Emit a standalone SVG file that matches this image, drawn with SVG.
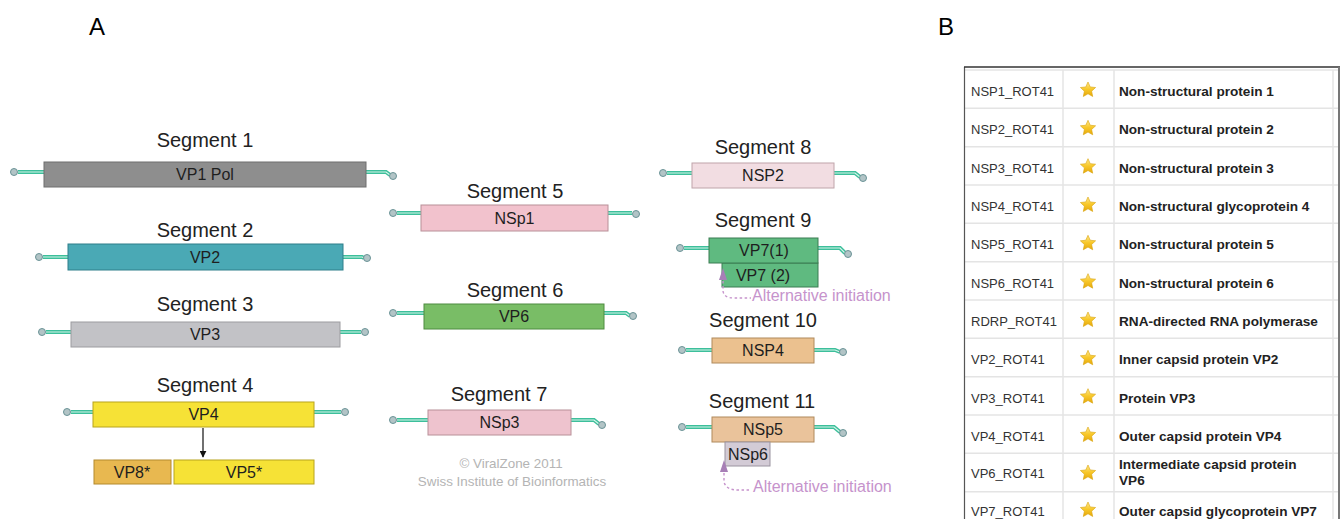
<svg xmlns="http://www.w3.org/2000/svg" width="1341" height="519" viewBox="0 0 1341 519">
<style>
.seg{font-family:"Liberation Sans",Arial,sans-serif;font-size:20px;fill:#222;text-anchor:middle}
.lbl{font-family:"Liberation Sans",Arial,sans-serif;font-size:16px;fill:#1e1e1e;text-anchor:middle}
.big{font-family:"Liberation Sans",Arial,sans-serif;font-size:24px;fill:#000;text-anchor:middle}
.copy{font-family:"Liberation Sans",Arial,sans-serif;font-size:13.4px;fill:#b4b4b4;text-anchor:middle}
.alt{font-family:"Liberation Sans",Arial,sans-serif;font-size:16px;fill:#c693cc}
.tl{fill:none;stroke:#3dbf9b;stroke-width:4}
.tc{fill:none;stroke:#d6f5ea;stroke-width:1.2}
.cap{fill:#b2c4c6;stroke:#6a9396;stroke-width:1}
.dash{fill:none;stroke:#c693cc;stroke-width:1.4;stroke-dasharray:2.5 2.5}
.id{font-family:"Liberation Sans",Arial,sans-serif;font-size:13px;fill:#333}
.nm{font-family:"Liberation Sans",Arial,sans-serif;font-size:13.6px;font-weight:bold;fill:#222}
.rl{stroke:#e4e4e4;stroke-width:1.5}
</style>
<defs>
<linearGradient id="sg" x1="0" y1="0" x2="0" y2="1">
<stop offset="0" stop-color="#ffe890"/>
<stop offset="0.5" stop-color="#f8c82a"/>
<stop offset="1" stop-color="#e6a80c"/>
</linearGradient>
<path id="star" d="M0,-8 L2.234,-3.074 L7.608,-2.472 L3.614,1.174 L4.702,6.472 L0,3.8 L-4.702,6.472 L-3.614,1.174 L-7.608,-2.472 L-2.234,-3.074 Z" fill="url(#sg)" stroke="#d9a20a" stroke-width="0.6"/>
<marker id="ah" viewBox="0 0 10 10" refX="9" refY="5" markerWidth="7" markerHeight="7" orient="auto" markerUnits="userSpaceOnUse">
<path d="M0,0 L10,5 L0,10 Z" fill="#111"/>
</marker>
</defs>
<rect width="1341" height="519" fill="#fff"/>
<text class="big" x="97" y="35">A</text>
<text class="big" x="946" y="35">B</text>

<!-- tails / connectors -->
<g id="connectors">
<path class="tl" d="M18,172 H44 M366,172 H386 L390,175"/>
<path class="tc" d="M18,172 H44 M366,172 H386 L390,175"/>
<path class="tl" d="M43,257 H68 M343,257 H362 L364,258"/>
<path class="tc" d="M43,257 H68 M343,257 H362 L364,258"/>
<path class="tl" d="M46,332 H71 M340,332 H361"/>
<path class="tc" d="M46,332 H71 M340,332 H361"/>
<path class="tl" d="M71,412 H93 M314,412 H341"/>
<path class="tc" d="M71,412 H93 M314,412 H341"/>
<path class="tl" d="M397,213 H421 M608,213 H632"/>
<path class="tc" d="M397,213 H421 M608,213 H632"/>
<path class="tl" d="M397,313 H424 M604,313 H626 L630,316"/>
<path class="tc" d="M397,313 H424 M604,313 H626 L630,316"/>
<path class="tl" d="M397,420 H428 M571,420 H594 L599,424"/>
<path class="tc" d="M397,420 H428 M571,420 H594 L599,424"/>
<path class="tl" d="M667,173 H692 M834,173 H855 L860,177"/>
<path class="tc" d="M667,173 H692 M834,173 H855 L860,177"/>
<path class="tl" d="M684,248 H709 M818,248 H840 L845,253"/>
<path class="tc" d="M684,248 H709 M818,248 H840 L845,253"/>
<path class="tl" d="M686,350 H712 M814,350 H835 L840,352"/>
<path class="tc" d="M686,350 H712 M814,350 H835 L840,352"/>
<path class="tl" d="M686,427 H712 M814,427 H834 L840,432"/>
<path class="tc" d="M686,427 H712 M814,427 H834 L840,432"/>
<g>
<circle class="cap" cx="14" cy="172" r="3.5"/><circle class="cap" cx="393" cy="176" r="3.5"/>
<circle class="cap" cx="39" cy="257" r="3.5"/><circle class="cap" cx="367" cy="258" r="3.5"/>
<circle class="cap" cx="42" cy="332" r="3.5"/><circle class="cap" cx="365" cy="332" r="3.5"/>
<circle class="cap" cx="67" cy="412" r="3.5"/><circle class="cap" cx="345" cy="412" r="3.5"/>
<circle class="cap" cx="393" cy="213" r="3.5"/><circle class="cap" cx="636" cy="214" r="3.5"/>
<circle class="cap" cx="393" cy="313" r="3.5"/><circle class="cap" cx="633" cy="316" r="3.5"/>
<circle class="cap" cx="393" cy="420" r="3.5"/><circle class="cap" cx="602" cy="425" r="3.5"/>
<circle class="cap" cx="663" cy="173" r="3.5"/><circle class="cap" cx="863" cy="178" r="3.5"/>
<circle class="cap" cx="680" cy="248" r="3.5"/><circle class="cap" cx="848" cy="254" r="3.5"/>
<circle class="cap" cx="682" cy="350" r="3.5"/><circle class="cap" cx="843" cy="352" r="3.5"/>
<circle class="cap" cx="682" cy="427" r="3.5"/><circle class="cap" cx="843" cy="433" r="3.5"/>
</g>
<line x1="203" y1="428" x2="203" y2="457" stroke="#111" stroke-width="1.2" marker-end="url(#ah)"/>
</g>

<g id="seg1">
<text class="seg" x="205" y="147">Segment 1</text>
<rect x="44" y="162" width="322" height="25" fill="#8e8e8e" stroke="#6e6e6e"/>
<text class="lbl" x="205" y="180">VP1 Pol</text>
</g>
<g id="seg2">
<text class="seg" x="205" y="237">Segment 2</text>
<rect x="68" y="244" width="275" height="26" fill="#4aa9b5" stroke="#2f7f8a"/>
<text class="lbl" x="205" y="262.5">VP2</text>
</g>
<g id="seg3">
<text class="seg" x="205" y="311">Segment 3</text>
<rect x="71" y="322" width="269" height="25" fill="#c2c2c6" stroke="#9c9ca0"/>
<text class="lbl" x="205" y="340">VP3</text>
</g>
<g id="seg4">
<text class="seg" x="205" y="392">Segment 4</text>
<rect x="93" y="402" width="221" height="25" fill="#f6e236" stroke="#b8a41c"/>
<text class="lbl" x="203.5" y="420">VP4</text>
</g>
<g id="vp8">
<rect x="94" y="460" width="77" height="24" fill="#e8b850" stroke="#b48a2c"/>
<text class="lbl" x="132" y="477.5">VP8*</text>
</g>
<g id="vp5">
<rect x="174" y="460" width="140" height="24" fill="#f6e236" stroke="#b8a41c"/>
<text class="lbl" x="244" y="477.5">VP5*</text>
</g>
<g id="seg5">
<text class="seg" x="515" y="198">Segment 5</text>
<rect x="421" y="205" width="187" height="26" fill="#f2c2cd" stroke="#b89098"/>
<text class="lbl" x="514.5" y="223.5">NSp1</text>
</g>
<g id="seg6">
<text class="seg" x="515" y="297">Segment 6</text>
<rect x="424" y="304" width="180" height="25" fill="#79bd66" stroke="#4f8c40"/>
<text class="lbl" x="514" y="322">VP6</text>
</g>
<g id="seg7">
<text class="seg" x="499" y="401">Segment 7</text>
<rect x="428" y="410" width="143" height="25" fill="#eec3ce" stroke="#b89098"/>
<text class="lbl" x="499.5" y="428">NSp3</text>
</g>
<g id="copyright">
<text class="copy" x="511" y="468">© ViralZone 2011</text>
<text class="copy" x="512" y="486">Swiss Institute of Bioinformatics</text>
</g>
<g id="seg8">
<text class="seg" x="763" y="154">Segment 8</text>
<rect x="692" y="163" width="142" height="25" fill="#f2dde2" stroke="#bfa4aa"/>
<text class="lbl" x="763" y="181">NSP2</text>
</g>
<g id="seg9">
<text class="seg" x="763" y="227">Segment 9</text>
<rect x="722" y="263" width="96" height="24" fill="#5fba80" stroke="#3b7d52"/>
<text class="lbl" x="763" y="280.5">VP7 (2)</text>
<rect x="709" y="238" width="109" height="25" fill="#5fba80" stroke="#3b7d52"/>
<text class="lbl" x="764" y="256">VP7(1)</text>
<path d="M723,268 L727,280 L719,280 Z" fill="#a77fb6"/>
<path class="dash" d="M723,281 V291 Q724,298 734,298 H751"/>
<text class="alt" x="752" y="301">Alternative initiation</text>
</g>
<g id="seg10">
<text class="seg" x="763" y="327">Segment 10</text>
<rect x="712" y="338" width="102" height="25" fill="#ebc18f" stroke="#b08a5c"/>
<text class="lbl" x="763" y="356">NSP4</text>
</g>
<g id="seg11">
<text class="seg" x="762" y="408">Segment 11</text>
<rect x="712" y="417" width="102" height="25" fill="#eac39b" stroke="#b08a5c"/>
<text class="lbl" x="763" y="435">NSp5</text>
<rect x="725" y="442" width="45" height="24" fill="#d3cbd6" stroke="#9a93a0"/>
<text class="lbl" x="748" y="459.5">NSp6</text>
<path d="M724,460 L728,472 L720,472 Z" fill="#a77fb6"/>
<path class="dash" d="M724,473 V482 Q726,490 738,490 H751"/>
<text class="alt" x="753" y="492">Alternative initiation</text>
</g>

<g id="table">
<rect x="964" y="67" width="376" height="460" fill="#fff"/>
<line class="rl" x1="965" y1="70" x2="1338" y2="70"/>
<g>
<line class="rl" x1="965" y1="108.3" x2="1338" y2="108.3"/>
<line class="rl" x1="965" y1="146.7" x2="1338" y2="146.7"/>
<line class="rl" x1="965" y1="185" x2="1338" y2="185"/>
<line class="rl" x1="965" y1="223.3" x2="1338" y2="223.3"/>
<line class="rl" x1="965" y1="261.7" x2="1338" y2="261.7"/>
<line class="rl" x1="965" y1="300" x2="1338" y2="300"/>
<line class="rl" x1="965" y1="338.3" x2="1338" y2="338.3"/>
<line class="rl" x1="965" y1="376.7" x2="1338" y2="376.7"/>
<line class="rl" x1="965" y1="415" x2="1338" y2="415"/>
<line class="rl" x1="965" y1="453.3" x2="1338" y2="453.3"/>
<line class="rl" x1="965" y1="491.7" x2="1338" y2="491.7"/>
</g>
<line class="rl" x1="1063" y1="70" x2="1063" y2="519"/>
<line class="rl" x1="1114" y1="70" x2="1114" y2="519"/>
<line class="rl" x1="1333" y1="70" x2="1333" y2="519"/>
<line x1="964.5" y1="67" x2="964.5" y2="519" stroke="#555" stroke-width="1.2"/>
<line x1="964" y1="67" x2="1340" y2="67" stroke="#333" stroke-width="1.4"/>
<line x1="1339" y1="67" x2="1339" y2="519" stroke="#777" stroke-width="2"/>
<g id="rows">
<text class="id" x="971" y="96">NSP1_ROT41</text><use href="#star" x="1088" y="90"/><text class="nm" x="1119" y="96">Non-structural protein 1</text>
<text class="id" x="971" y="134.3">NSP2_ROT41</text><use href="#star" x="1088" y="128.3"/><text class="nm" x="1119" y="134.3">Non-structural protein 2</text>
<text class="id" x="971" y="172.7">NSP3_ROT41</text><use href="#star" x="1088" y="166.7"/><text class="nm" x="1119" y="172.7">Non-structural protein 3</text>
<text class="id" x="971" y="211">NSP4_ROT41</text><use href="#star" x="1088" y="205"/><text class="nm" x="1119" y="211">Non-structural glycoprotein 4</text>
<text class="id" x="971" y="249.3">NSP5_ROT41</text><use href="#star" x="1088" y="243.3"/><text class="nm" x="1119" y="249.3">Non-structural protein 5</text>
<text class="id" x="971" y="287.7">NSP6_ROT41</text><use href="#star" x="1088" y="281.7"/><text class="nm" x="1119" y="287.7">Non-structural protein 6</text>
<text class="id" x="971" y="326">RDRP_ROT41</text><use href="#star" x="1088" y="320"/><text class="nm" x="1119" y="326">RNA-directed RNA polymerase</text>
<text class="id" x="971" y="364.3">VP2_ROT41</text><use href="#star" x="1088" y="358.3"/><text class="nm" x="1119" y="364.3">Inner capsid protein VP2</text>
<text class="id" x="971" y="402.7">VP3_ROT41</text><use href="#star" x="1088" y="396.7"/><text class="nm" x="1119" y="402.7">Protein VP3</text>
<text class="id" x="971" y="441">VP4_ROT41</text><use href="#star" x="1088" y="435"/><text class="nm" x="1119" y="441">Outer capsid protein VP4</text>
<text class="id" x="971" y="478">VP6_ROT41</text><use href="#star" x="1088" y="473"/><text class="nm" x="1119" y="469">Intermediate capsid protein</text><text class="nm" x="1119" y="485">VP6</text>
<text class="id" x="971" y="516">VP7_ROT41</text><use href="#star" x="1088" y="510"/><text class="nm" x="1119" y="516">Outer capsid glycoprotein VP7</text>
</g>
</g>
</svg>
